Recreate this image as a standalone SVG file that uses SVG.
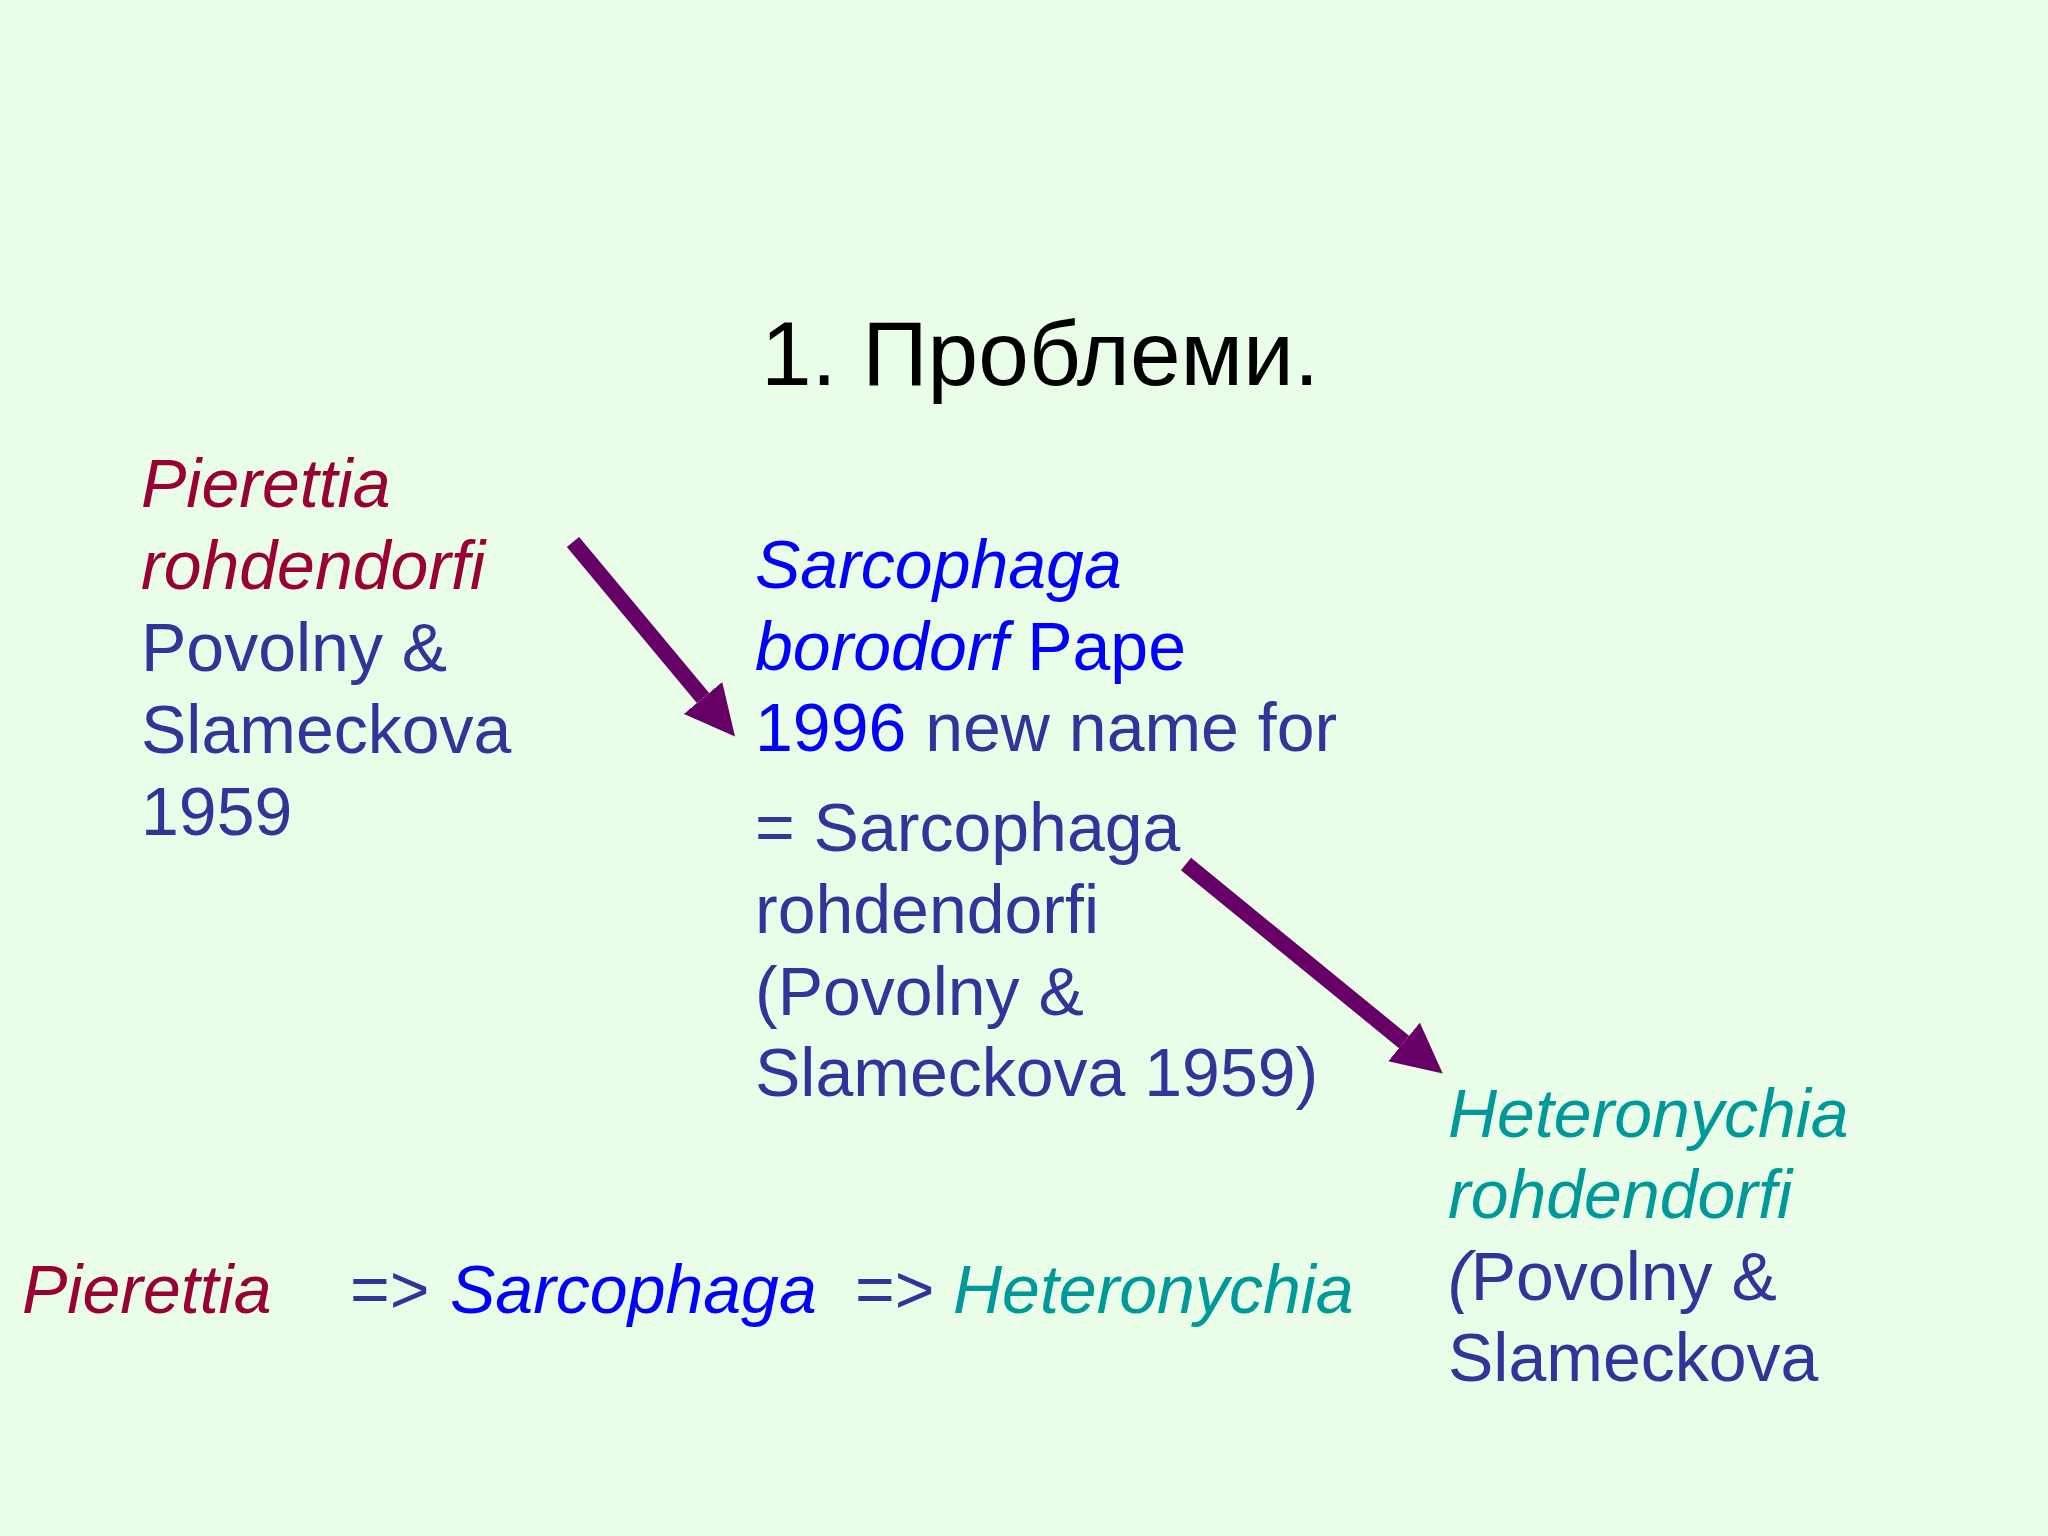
<svg xmlns="http://www.w3.org/2000/svg" width="2048" height="1536" viewBox="0 0 2048 1536">
<defs>
<style>
text{font-family:"Liberation Sans",Arial,sans-serif;font-size:68px;fill:#333399}
.i{font-style:italic}
.red{fill:#990033}
.blue{fill:#0000FF}
.teal{fill:#009999}
.title{font-size:91px;fill:#000000}
.arrow{stroke:#660066;stroke-width:16;fill:none}
</style>
<marker id="head" markerUnits="userSpaceOnUse" markerWidth="50" markerHeight="50" viewBox="0 0 50 50" refX="0" refY="25" orient="auto">
<path d="M0,0 L50,25 L0,50 Z" fill="#660066"/>
</marker>
</defs>
<rect width="2048" height="1536" fill="#EAFDE8"/>
<g id="title">
<text class="title" x="761" y="385">1. Проблеми.</text>
</g>
<g id="node-pierettia">
<text class="i red" x="141" y="507">Pierettia</text>
<text class="i red" x="141" y="589">rohdendorfi</text>
<text x="141" y="671">Povolny &amp;</text>
<text x="141" y="753">Slameckova</text>
<text x="141" y="835">1959</text>
</g>
<g id="node-sarcophaga">
<text class="i blue" x="755" y="588">Sarcophaga</text>
<text x="755" y="670"><tspan class="i blue">borodorf</tspan><tspan class="blue"> Pape</tspan></text>
<text x="755" y="751"><tspan class="blue">1996</tspan> new name for</text>
<text x="755" y="851">= Sarcophaga</text>
<text x="755" y="933">rohdendorfi</text>
<text x="755" y="1015">(Povolny &amp;</text>
<text x="755" y="1096">Slameckova 1959)</text>
</g>
<g id="node-heteronychia">
<text class="i teal" x="1448" y="1137">Heteronychia</text>
<text class="i teal" x="1448" y="1218">rohdendorfi</text>
<text x="1448" y="1300"><tspan class="i">(</tspan>Povolny &amp;</text>
<text x="1448" y="1381">Slameckova</text>
</g>
<g id="node-summary">
<text class="i red" x="22" y="1313">Pierettia</text>
<text x="350" y="1313">=&gt;</text>
<text class="i blue" x="450" y="1313">Sarcophaga</text>
<text x="855" y="1313">=&gt;</text>
<text class="i teal" x="953" y="1313">Heteronychia</text>
</g>
<g id="connectors">
<line class="arrow" x1="573" y1="542" x2="703" y2="698" marker-end="url(#head)"/>
<line class="arrow" x1="1186" y1="864" x2="1404" y2="1042" marker-end="url(#head)"/>
</g>
</svg>
